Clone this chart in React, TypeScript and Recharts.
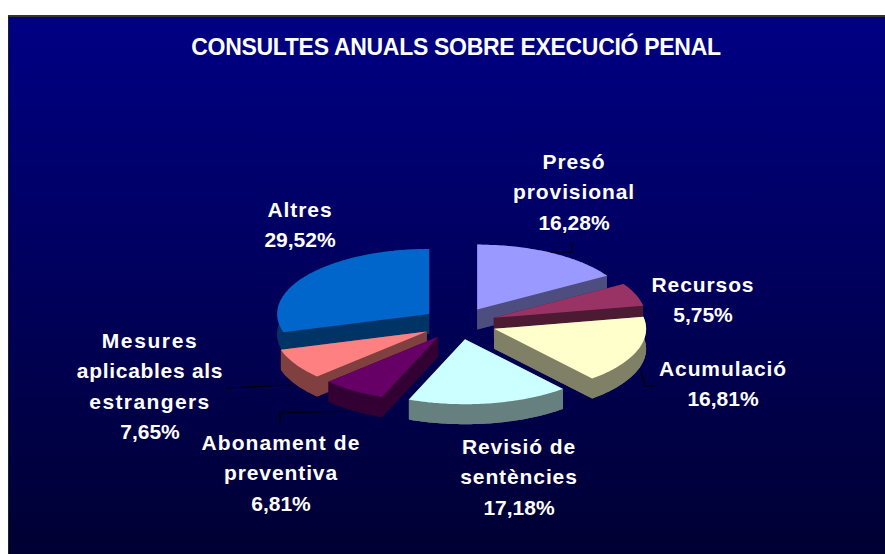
import React from 'react';
import { PieChart, Pie } from 'recharts';

const categories = [
  'Presó\nprovisional',
  'Recursos',
  'Acumulació',
  'Revisió de\nsentències',
  'Abonament de\npreventiva',
  'Mesures\naplicables als\nestrangers',
  'Altres',
];
const shares = [16.28, 5.75, 16.81, 17.18, 6.81, 7.65, 29.52];
const topColors = ['#9999FF', '#993366', '#FFFFCC', '#CCFFFF', '#660066', '#FF8080', '#0066CC'];
const sideColors = ['#4D4D80', '#4D1A33', '#808066', '#668080', '#330033', '#804040', '#003366'];

// back to front, so the nearer slices hide the sides of the ones behind
const paintOrder = [6, 0, 1, 2, 5, 4, 3];

// label anchors: centre x and first baseline
const labelX = [574, 703, 723, 519, 281, 150, 300];
const labelY = [169, 292, 376, 454, 450, 348, 217];
const labelSpacing = [[0.9, 0.9], [0.9], [0.9], [0.9, 0.9], [1.1, 0.9], [1.6, 0.7, 1.4], [0.9]];
const labelLeaders = [
  '551,252 572,252 572,243',
  '',
  '641,372 645,386 655,386',
  '',
  '350,411 280,413 280,424',
  '292,385 226,388',
  '',
];

const data = categories.map((name, i) => ({ name, value: shares[i], fill: topColors[i] }));

const WIDTH = 885;
const HEIGHT = 554;
const CX = 459;
const CY = 323.5;
const RX = 152;
const RY = 65;
const DEPTH = 20;
const EXPLODE = 0.245;
const RAD = Math.PI / 180;

type Pt = [number, number];
const toPoints = (pts: Pt[]) => pts.map((p) => `${p[0].toFixed(1)},${p[1].toFixed(1)}`).join(' ');
const shift = (pts: Pt[]) => pts.map((p): Pt => [p[0], p[1] + DEPTH]);

// a pie sector tipped back: recharts gives the angles, we squash them to an ellipse
const Slice = ({ startAngle, endAngle, cx, cy, outerRadius, index }: any) => {
  const squash = RY / RX;
  const mid = ((startAngle + endAngle) / 2) * RAD;
  const ax = cx + EXPLODE * outerRadius * Math.cos(mid);
  const ay = cy - EXPLODE * outerRadius * squash * Math.sin(mid);
  const rim: Pt[] = [];
  const steps = Math.max(2, Math.ceil(Math.abs(startAngle - endAngle)));
  for (let s = 0; s <= steps; s++) {
    const a = (startAngle + ((endAngle - startAngle) * s) / steps) * RAD;
    rim.push([ax + outerRadius * Math.cos(a), ay - outerRadius * squash * Math.sin(a)]);
  }
  const apex: Pt = [ax, ay];
  const first = rim[0];
  const last = rim[rim.length - 1];
  const side = sideColors[index];
  return (
    <g>
      <polygon points={toPoints(shift([apex, ...rim]))} fill={side} />
      <polygon points={toPoints([...rim, ...shift(rim).reverse()])} fill={side} />
      <polygon points={toPoints([apex, first, ...shift([first]), ...shift([apex])])} fill={side} />
      <polygon points={toPoints([apex, last, ...shift([last]), ...shift([apex])])} fill={side} />
      <polygon points={toPoints([apex, ...rim])} fill={topColors[index]} />
    </g>
  );
};

const SliceLabel = ({ index, value }: any) => {
  const lines = [...categories[index].split('\n'), `${value.toFixed(2).replace('.', ',')}%`];
  return (
    <g>
      {labelLeaders[index] && <polyline points={labelLeaders[index]} fill="none" stroke="#000000" strokeWidth={1.2} />}
      <text
        x={labelX[index]}
        y={labelY[index]}
        textAnchor="middle"
        fill="#FFFFFF"
        fontFamily="Liberation Sans"
        fontWeight="bold"
        fontSize={21}
      >
        {lines.map((line, i) => (
          <tspan key={i} x={labelX[index]} y={labelY[index] + i * 30.3} letterSpacing={labelSpacing[index][i] ?? 0}>
            {line}
          </tspan>
        ))}
      </text>
    </g>
  );
};

const App = () => (
  <div style={{ position: 'absolute', left: 0, top: 0, width: WIDTH, height: HEIGHT, background: '#FFFFFF', overflow: 'hidden' }}>
    <div
      style={{
        position: 'absolute',
        left: 8,
        top: 15,
        width: WIDTH - 8,
        height: HEIGHT - 15,
        boxSizing: 'border-box',
        borderTop: '2px solid #333333',
        borderLeft: '1px solid #222222',
        background: 'linear-gradient(#000084, #000033)',
      }}
    />
    <div
      style={{
        position: 'absolute',
        left: 191,
        top: 33,
        width: 530,
        textAlign: 'center',
        whiteSpace: 'nowrap',
        color: '#FFFFFF',
        fontFamily: 'Liberation Sans',
        fontWeight: 'bold',
        fontSize: 23,
        letterSpacing: -0.3,
        lineHeight: '28px',
      }}
    >
      CONSULTES ANUALS SOBRE EXECUCIÓ PENAL
    </div>
    <div style={{ position: 'absolute', left: 0, top: 0 }}>
      <PieChart width={WIDTH} height={HEIGHT} margin={{ top: 0, right: 0, bottom: 0, left: 0 }}>
        {paintOrder.map((sliceIndex) => (
          <Pie
            key={sliceIndex}
            data={data}
            dataKey="value"
            nameKey="name"
            cx={CX}
            cy={CY}
            outerRadius={RX}
            startAngle={90}
            endAngle={-270}
            stroke="none"
            isAnimationActive={false}
            shape={(props: any) =>
              categories.indexOf(props.name) === sliceIndex ? (
                <Slice {...props} index={sliceIndex} />
              ) : (
                <g />
              )
            }
          />
        ))}
        <Pie
          data={data}
          dataKey="value"
          nameKey="name"
          cx={CX}
          cy={CY}
          outerRadius={RX}
          startAngle={90}
          endAngle={-270}
          isAnimationActive={false}
          labelLine={false}
          label={SliceLabel}
          shape={() => <g />}
        />
      </PieChart>
    </div>
  </div>
);

export default App;
